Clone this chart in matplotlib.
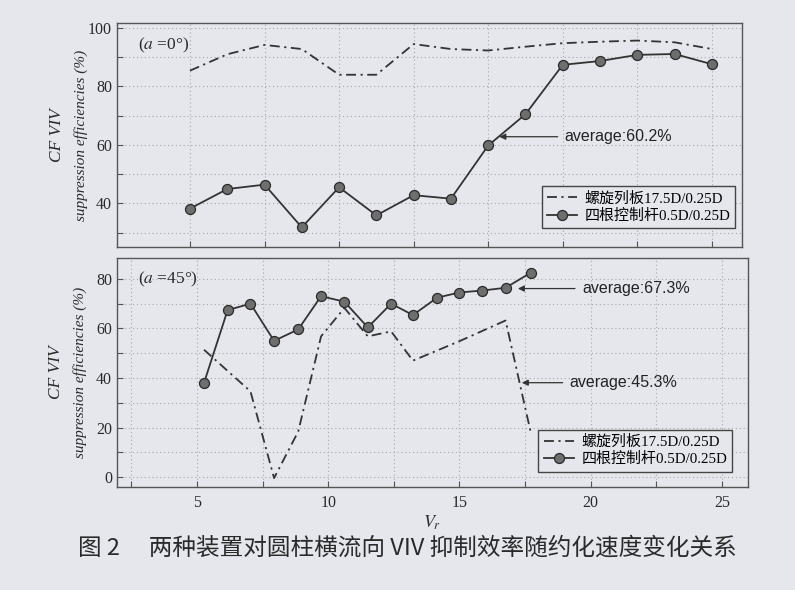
import numpy as np
import matplotlib
matplotlib.use('Agg')
from matplotlib import pyplot as plt
from matplotlib.ticker import MultipleLocator, NullFormatter

plt.rcParams['font.family'] = ['Liberation Serif', 'Noto Sans CJK SC']
plt.rcParams['mathtext.fontset'] = 'stix'

PAPER = '#e5e7ed'
INK = '#333333'

# a = 0 deg: points evenly spaced along the reduced-velocity axis
idx_0 = [1, 2, 3, 4, 5, 6, 7, 8, 9, 10, 11, 12, 13, 14, 15]
strake_0 = [85.4, 91.0, 94.2, 92.8, 84.0, 84.0, 94.5, 92.8, 92.3, 93.6, 94.8, 95.3, 95.7, 95.1, 92.8]
rods_0 = [38.2, 44.9, 46.4, 31.8, 45.5, 35.9, 42.8, 41.6, 59.8, 70.5, 87.4, 88.7, 90.8, 91.1, 87.6]

# a = 45 deg
vr_45 = [5.27, 6.17, 7.04, 7.94, 8.86, 9.73, 10.62, 11.51, 12.40, 13.23, 14.15, 14.99, 15.87, 16.76, 17.72]
rods_45 = [38.0, 67.4, 70.0, 55.0, 59.6, 73.0, 70.8, 60.4, 70.0, 65.4, 72.4, 74.5, 75.3, 76.4, 82.5]
vr_strake_45 = [5.27, 7.04, 7.94, 8.86, 9.73, 10.62, 11.51, 12.40, 13.23, 14.99, 16.76, 17.72]
strake_45 = [51.4, 34.6, -0.4, 18.4, 56.8, 68.3, 56.8, 58.8, 47.0, 54.8, 63.2, 18.0]

labels = ['螺旋列板17.5D/0.25D', '四根控制杆0.5D/0.25D']
caption = '图 2\u3000 两种装置对圆柱横流向 VIV 抑制效率随约化速度变化关系'

fig = plt.figure(figsize=(7.95, 5.9), dpi=100, facecolor=PAPER)
ax_top = fig.add_axes([0.147, 0.581, 0.786, 0.380])
ax_bot = fig.add_axes([0.147, 0.175, 0.794, 0.388])

strake_style = dict(color=INK, lw=1.3, linestyle=(0, (5.5, 2.5, 1.2, 2.5)))
rod_style = dict(color=INK, lw=1.3, marker='o', markersize=7.2,
                 markerfacecolor='#6e6e6e', markeredgecolor='#2a2a2a', markeredgewidth=0.9)


def style_axes(ax):
    ax.set_facecolor(PAPER)
    for s in ax.spines.values():
        s.set_color('#555555')
        s.set_linewidth(1.0)
    ax.tick_params(which='both', direction='in', length=4, width=0.8, color='#555555',
                   labelsize=11.5, labelcolor='#2a2a2a', top=False, right=False)
    ax.grid(which='both', linestyle=(0, (1, 2.5)), color='#a8a8a8', lw=0.8)
    ax.set_axisbelow(True)


def add_ylabel(ax):
    ax.text(-0.096, 0.5, 'CF VIV', transform=ax.transAxes, rotation=90,
            ha='center', va='center', fontsize=12.5, style='italic', color='#2a2a2a')
    ax.text(-0.058, 0.5, 'suppression efficiencies (%)', transform=ax.transAxes, rotation=90,
            ha='center', va='center', fontsize=11, style='italic', color='#2a2a2a')


def add_legend(ax, anchor):
    leg = ax.legend(labels, loc='lower right', bbox_to_anchor=anchor, fontsize=10.8,
                    fancybox=False, framealpha=1, facecolor=PAPER, edgecolor='#444444',
                    handlelength=2.0, handletextpad=0.5, borderpad=0.35, labelspacing=0.2,
                    borderaxespad=0)
    leg.get_frame().set_linewidth(1.0)


arrow = dict(arrowstyle='-|>', color=INK, lw=0.9, mutation_scale=9, shrinkA=3, shrinkB=0)
note_font = dict(family='Liberation Sans', fontsize=11.5, color='#222222', ha='left', va='center')

# top panel, a = 0 deg
style_axes(ax_top)
ax_top.plot(idx_0, strake_0, **strake_style)
ax_top.plot(idx_0, rods_0, **rod_style)
ax_top.set_xlim(-0.96, 15.8)
ax_top.set_ylim(25, 101.7)
ax_top.set_xticks(idx_0[::2])
ax_top.xaxis.set_major_formatter(NullFormatter())
ax_top.yaxis.set_minor_locator(MultipleLocator(10))
ax_top.set_yticks([40, 60, 80, 100])
ax_top.text(0.034, 0.90, '($a$ =0°)', transform=ax_top.transAxes, fontsize=12.5,
            ha='left', va='center', color='#2a2a2a')
ax_top.annotate('average:60.2%', xy=(9.3, 62.8), xytext=(11.05, 62.8),
                arrowprops=arrow, **note_font)
add_ylabel(ax_top)
add_legend(ax_top, (0.99, 0.085))

# bottom panel, a = 45 deg
style_axes(ax_bot)
ax_bot.plot(vr_strake_45, strake_45, **strake_style)
ax_bot.plot(vr_45, rods_45, **rod_style)
ax_bot.set_xlim(1.95, 26.0)
ax_bot.set_ylim(-3.9, 88.5)
ax_bot.xaxis.set_minor_locator(MultipleLocator(2.5))
ax_bot.yaxis.set_minor_locator(MultipleLocator(10))
ax_bot.set_yticks([0, 20, 40, 60, 80])
ax_bot.set_xticks([5, 10, 15, 20, 25])
ax_bot.tick_params(axis='x', pad=6)
ax_bot.set_xlabel('$V_r$', fontsize=13, labelpad=2, color='#2a2a2a')
ax_bot.text(0.034, 0.908, '($a$ =45°)', transform=ax_bot.transAxes, fontsize=12.5,
            ha='left', va='center', color='#2a2a2a')
ax_bot.annotate('average:67.3%', xy=(17.23, 76.1), xytext=(19.67, 76.1),
                arrowprops=arrow, **note_font)
ax_bot.annotate('average:45.3%', xy=(17.38, 38.1), xytext=(19.2, 38.1),
                arrowprops=arrow, **note_font)
add_ylabel(ax_bot)
add_legend(ax_bot, (0.975, 0.066))

fig.text(0.513, 0.071, caption, family=['Noto Sans CJK SC', 'DejaVu Sans'],
         fontsize=17, ha='center', va='center', color='#2a2a2a')

fig.savefig('out.png', dpi=100, facecolor=PAPER)
